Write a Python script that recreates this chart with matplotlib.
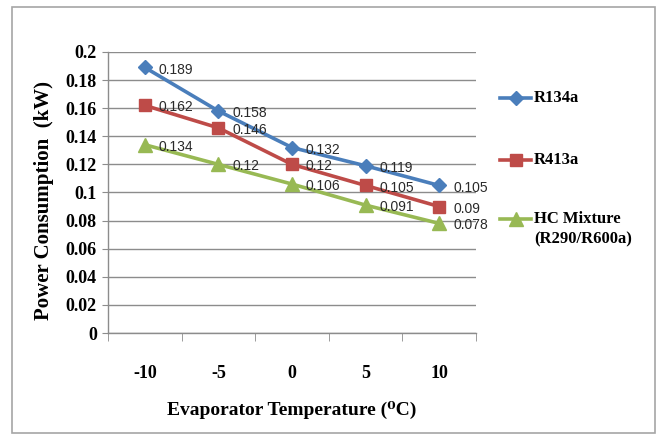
import matplotlib
matplotlib.use("Agg")
import matplotlib.pyplot as plt
from matplotlib.lines import Line2D
from matplotlib.patches import Rectangle

# Data
temperatures = ["-10", "-5", "0", "5", "10"]
r134a = [0.189, 0.158, 0.132, 0.119, 0.105]
r413a = [0.162, 0.146, 0.12, 0.105, 0.09]
hc_mixture = [0.134, 0.12, 0.106, 0.091, 0.078]
series_names = ["R134a", "R413a", "HC Mixture\n(R290/R600a)"]
y_ticks = [0, 0.02, 0.04, 0.06, 0.08, 0.1, 0.12, 0.14, 0.16, 0.18, 0.2]
y_tick_labels = ["0", "0.02", "0.04", "0.06", "0.08", "0.1", "0.12", "0.14", "0.16", "0.18", "0.2"]

serif = ["Liberation Serif", "DejaVu Serif"]
label_font = ["Liberation Sans", "DejaVu Sans"]

W, H = 660, 434
fig = plt.figure(figsize=(W / 100, H / 100), dpi=100)
fig.patch.set_facecolor("white")

# outer chart frame
fig.add_artist(Rectangle((12 / W, 1 - 433 / H), (655 - 12) / W, (433 - 7) / H,
                         transform=fig.transFigure, fill=False,
                         edgecolor="#a6a6a6", linewidth=1.2))

left, right, top, bottom = 108, 476, 52, 333
ax = fig.add_axes([left / W, 1 - bottom / H, (right - left) / W, (bottom - top) / H])

x = list(range(len(temperatures)))
styles = [
    (r134a, "#4a7ebb", "D", 7),
    (r413a, "#be4b48", "s", 9),
    (hc_mixture, "#98b954", "^", 10),
]
for (vals, color, marker, ms), name in zip(styles, series_names):
    ax.plot(x, vals, color=color, marker=marker, markersize=ms, linewidth=2.6,
            markeredgecolor=color, label=name, zorder=3, clip_on=False)
    for xi, v in zip(x, vals):
        ax.annotate(f"{v:g}", (xi, v), xytext=(10, -1.5), textcoords="offset points",
                    ha="left", va="center", fontsize=10, family=label_font,
                    color="#2a2a2a", zorder=4)

ax.set_xlim(-0.5, len(temperatures) - 0.5)
ax.set_ylim(0, 0.2)
ax.set_yticks(y_ticks)
ax.set_yticklabels(y_tick_labels)
ax.set_xticks(x)
ax.set_xticklabels(temperatures)
ax.set_xticks([i - 0.5 for i in range(len(temperatures) + 1)], minor=True)
ax.tick_params(axis="x", which="major", length=0, pad=23)
ax.tick_params(axis="x", which="minor", length=6, color="#8c8c8c", direction="out")
ax.tick_params(axis="y", length=4, color="#8c8c8c", direction="out", pad=4)
for lab in ax.get_xticklabels() + ax.get_yticklabels():
    lab.set_family(serif)
    lab.set_fontweight("bold")
    lab.set_fontsize(13)

ax.grid(axis="y", color="#8c8c8c", linewidth=1)
ax.set_axisbelow(True)
for s in ["top", "right"]:
    ax.spines[s].set_visible(False)
for s in ["left", "bottom"]:
    ax.spines[s].set_color("#8c8c8c")
    ax.spines[s].set_linewidth(1)

fig.text(44 / W, 1 - 200 / H, "Power Consumption  (kW)", rotation=90, ha="center",
         va="center", family=serif, fontweight="bold", fontsize=15)
fig.text(292 / W, 1 - 410 / H, "Evaporator Temperature (\u2070C)", ha="center",
         va="center", family=serif, fontweight="bold", fontsize=14)

# legend, drawn in figure coordinates
legend_rows = [98, 160, 219]
for (vals, color, marker, ms), name, yy in zip(styles, series_names, legend_rows):
    yf = 1 - yy / H
    fig.add_artist(Line2D([500 / W, 531 / W], [yf, yf], transform=fig.transFigure,
                          color=color, linewidth=2.6))
    fig.add_artist(Line2D([515.5 / W], [yf], transform=fig.transFigure, color=color,
                          marker=marker, markersize=ms, markeredgecolor=color))
    fig.text(534 / W, yf + 8 / H, name, ha="left", va="top", family=serif,
             fontweight="bold", fontsize=12, linespacing=1.35)

fig.savefig("out.png", dpi=100, facecolor="white")
